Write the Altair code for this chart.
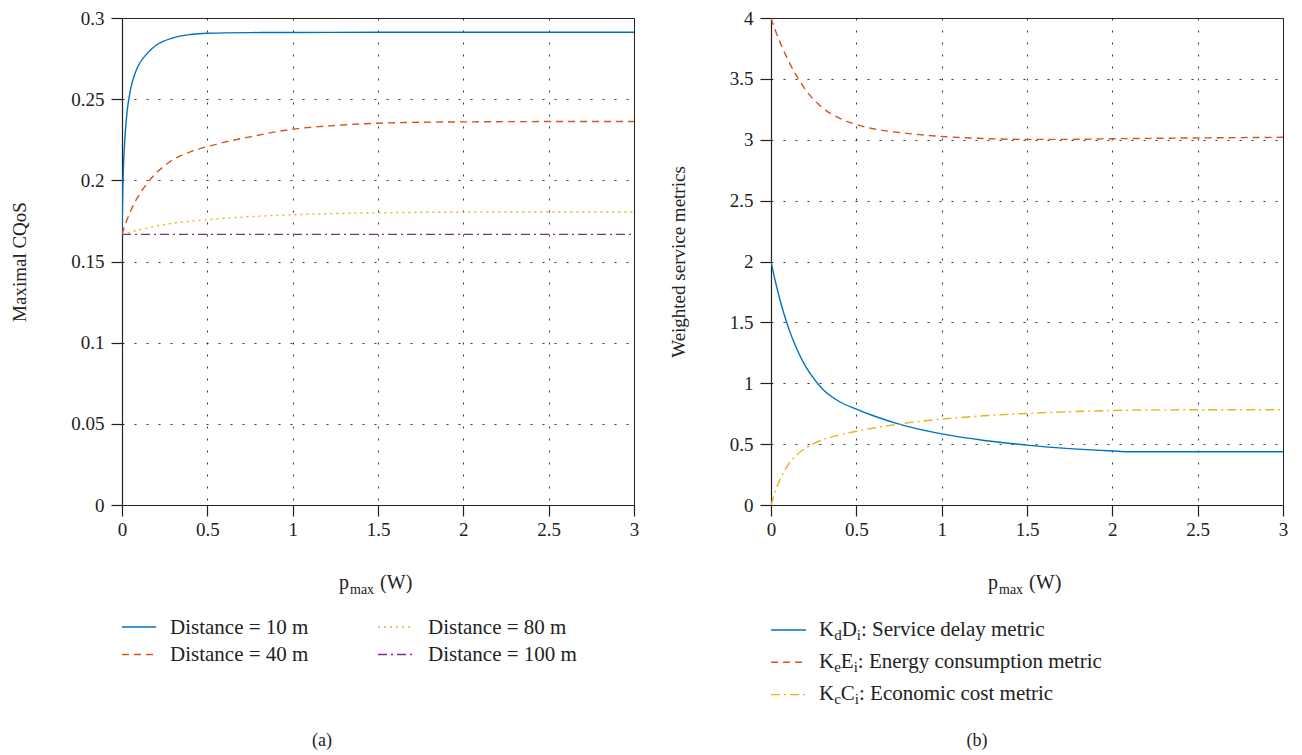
import altair as alt
import pandas as pd

FONT = "Liberation Serif"
INK = "#222222"

# ---------------- data: panel (a) Maximal CQoS ----------------
a_x_10 = [0, 0.005, 0.01, 0.02, 0.03, 0.05, 0.075, 0.1, 0.15, 0.2, 0.3, 0.4, 0.5, 0.75, 1.0, 1.5, 2.0, 2.5, 3.0]
a_y_10 = [0.1667, 0.196, 0.212, 0.2305, 0.2425, 0.256, 0.2655, 0.2715, 0.2785, 0.2832, 0.2878, 0.2898, 0.2906, 0.2910, 0.2911, 0.2912, 0.2912, 0.2912, 0.2912]
a_x_40 = [0, 0.025, 0.05, 0.075, 0.1, 0.15, 0.2, 0.25, 0.3, 0.4, 0.5, 0.6, 0.75, 1.0, 1.25, 1.5, 2.0, 2.5, 3.0]
a_y_40 = [0.1667, 0.1745, 0.181, 0.1865, 0.191, 0.1985, 0.2045, 0.209, 0.2128, 0.2175, 0.2208, 0.2235, 0.2268, 0.2315, 0.2338, 0.2352, 0.2360, 0.2362, 0.2362]
a_x_80 = [0, 0.1, 0.25, 0.5, 0.75, 1.0, 1.5, 2.0, 2.5, 3.0]
a_y_80 = [0.1667, 0.1695, 0.1728, 0.1758, 0.1776, 0.1788, 0.1800, 0.1804, 0.1805, 0.1805]
a_x_100 = [0, 3.0]
a_y_100 = [0.1667, 0.1667]
a_labels = ["Distance = 10 m", "Distance = 40 m", "Distance = 80 m", "Distance = 100 m"]

# ---------------- data: panel (b) Weighted service metrics ----------------
b_x_d = [0, 0.025, 0.05, 0.075, 0.1, 0.15, 0.2, 0.25, 0.3, 0.35, 0.4, 0.5, 0.6, 0.75, 1.0, 1.25, 1.5, 1.75, 2.0, 2.1, 2.5, 3.0]
b_y_d = [2.0, 1.84, 1.70, 1.575, 1.465, 1.285, 1.145, 1.04, 0.955, 0.895, 0.85, 0.788, 0.733, 0.664, 0.584, 0.53, 0.492, 0.463, 0.443, 0.4375, 0.4375, 0.4375]
b_x_e = [0, 0.025, 0.05, 0.075, 0.1, 0.15, 0.2, 0.25, 0.3, 0.35, 0.4, 0.5, 0.6, 0.75, 1.0, 1.25, 1.5, 1.75, 2.0, 2.5, 3.0]
b_y_e = [4.0, 3.90, 3.81, 3.73, 3.655, 3.525, 3.415, 3.33, 3.265, 3.215, 3.178, 3.125, 3.09, 3.06, 3.027, 3.01, 3.003, 3.003, 3.008, 3.015, 3.02]
b_x_c = [0, 0.01, 0.025, 0.05, 0.075, 0.1, 0.15, 0.2, 0.25, 0.3, 0.4, 0.5, 0.6, 0.75, 1.0, 1.25, 1.5, 1.75, 2.0, 2.25, 2.5, 3.0]
b_y_c = [0.0, 0.045, 0.11, 0.2, 0.27, 0.33, 0.41, 0.465, 0.505, 0.535, 0.575, 0.606, 0.632, 0.665, 0.705, 0.733, 0.752, 0.766, 0.776, 0.781, 0.782, 0.782]
b_labels = [
    [("K", False), ("d", True), ("D", False), ("i", True), (": Service delay metric", False)],
    [("K", False), ("e", True), ("E", False), ("i", True), (": Energy consumption metric", False)],
    [("K", False), ("c", True), ("C", False), ("i", True), (": Economic cost metric", False)],
]
x_title = [("p", False), ("max", True), ("(W)", False)]

x_ticks = [0, 0.5, 1, 1.5, 2, 2.5, 3]
a_y_ticks = [0, 0.05, 0.1, 0.15, 0.2, 0.25, 0.3]
b_y_ticks = [0, 0.5, 1, 1.5, 2, 2.5, 3, 3.5, 4]

BLUE, RED, YELLOW, PURPLE = "#0072BD", "#D95319", "#EDB120", "#7E2F8E"
SOLID, DASH, DOT, DASHDOT = None, [7, 5], [2, 4], [9, 4, 2, 4]

W, H = 512, 487
FS, SUB = 21, 15

# Times-like advance widths (per 1000 em) for rich-text segment layout
ADV = {"K": 722, "d": 500, "D": 722, "i": 278, "e": 444, "E": 611, "c": 444,
       "C": 667, "p": 500, "m": 778, "a": 444, "x": 500, " ": 250, "(": 333, "W": 944, ")": 333}


def seg_width(t, fs):
    return sum(ADV.get(ch, 500) for ch in t) * fs / 1000.0


def one():
    return alt.Data(values=[{"k": 0}])


def text_seg(t, x, y, fs, align="left"):
    return alt.Chart(alt.Data(values=[{"t": t}])).mark_text(
        font=FONT, fontSize=fs, align=align, baseline="alphabetic", color=INK
    ).encode(text="t:N", x=alt.value(x), y=alt.value(y))


def rich(segments, x0, y0, drop=4, gaps=None, fs_main=FS, fs_sub=SUB):
    out, x = [], x0
    for j, (t, sub) in enumerate(segments):
        fs = fs_sub if sub else fs_main
        out.append(text_seg(t, x, y0 + (drop if sub else 0), fs))
        x += seg_width(t, fs) + (gaps[j] if gaps else 0)
    return out


def swatch(x0, x1, y, color, dash):
    kw = dict(color=color, strokeWidth=1.4)
    if dash:
        kw["strokeDash"] = dash
    return alt.Chart(one()).mark_rule(**kw).encode(
        x=alt.value(x0), x2=alt.value(x1), y=alt.value(y))


def series_layer(xs, ys, color, dash, ydom, yvals, ytitle):
    df = pd.DataFrame({"p": xs, "v": ys})
    kw = dict(color=color, strokeWidth=1.4, interpolate="monotone", clip=True)
    if dash:
        kw["strokeDash"] = dash
    xax = alt.Axis(values=x_ticks, format="~g", title=None, grid=True,
                   labelFlush=False, labelOverlap=False, labelPadding=4)
    yax = alt.Axis(values=yvals, format="~g", title=ytitle, grid=True,
                   labelOverlap=False, labelPadding=7, titlePadding=41)
    return alt.Chart(df).mark_line(**kw).encode(
        x=alt.X("p:Q", scale=alt.Scale(domain=[0, 3], nice=False), axis=xax),
        y=alt.Y("v:Q", scale=alt.Scale(domain=ydom, nice=False), axis=yax),
    )


def xtitle():
    return rich(x_title, 217, 571, drop=5, gaps=[1, 6, 0], fs_main=20, fs_sub=14)


# ---------------- panel (a) ----------------
a_series = [(a_x_10, a_y_10, BLUE, SOLID), (a_x_40, a_y_40, RED, DASH),
            (a_x_80, a_y_80, YELLOW, DOT), (a_x_100, a_y_100, PURPLE, DASHDOT)]
a_layers = [series_layer(xs, ys, c, d, [0, 0.3], a_y_ticks, "Maximal CQoS")
            for (xs, ys, c, d) in a_series]
a_layers += xtitle()
a_pos = [(0, 34, 48, 609), (0, 34, 48, 636.5), (256, 292, 306, 609), (256, 292, 306, 636.5)]
for (xs, ys, c, d), lab, (s0, s1, tx, ty) in zip(a_series, a_labels, a_pos):
    a_layers.append(swatch(s0, s1, ty, c, d))
    a_layers.append(text_seg(lab, tx, ty + 6.5, FS))
a_layers.append(text_seg("(a)", 200, 728, 18, align="center"))
left = alt.layer(*a_layers).properties(width=W, height=H)

# ---------------- panel (b) ----------------
b_series = [(b_x_d, b_y_d, BLUE, SOLID), (b_x_e, b_y_e, RED, DASH), (b_x_c, b_y_c, YELLOW, DASHDOT)]
b_layers = [series_layer(xs, ys, c, d, [0, 4], b_y_ticks, "Weighted service metrics")
            for (xs, ys, c, d) in b_series]
b_layers += xtitle()
for k, ((xs, ys, c, d), segs) in enumerate(zip(b_series, b_labels)):
    yy = 612 + 32.3 * k
    b_layers.append(swatch(0, 35, yy, c, d))
    b_layers += rich(segs, 48, yy + 5.5)
b_layers.append(text_seg("(b)", 206, 728, 18, align="center"))
right = alt.layer(*b_layers).properties(width=W, height=H)

chart = (
    alt.hconcat(left, right, spacing=28)
    .properties(padding={"left": 2, "top": 0, "right": 0, "bottom": 0})
    .configure_view(stroke=INK, strokeWidth=1)
    .configure_axis(
        labelFont=FONT, labelFontSize=19, labelColor=INK,
        titleFont=FONT, titleFontSize=19, titleFontWeight="normal", titleColor=INK,
        tickColor=INK, tickSize=11, tickWidth=1.2, domainColor=INK, domainWidth=1.2,
        gridColor=INK, gridDash=[2, 10], gridWidth=1, gridOpacity=0.9,
    )
)

chart.save("out.html", embed_options={"renderer": "svg", "actions": False})
